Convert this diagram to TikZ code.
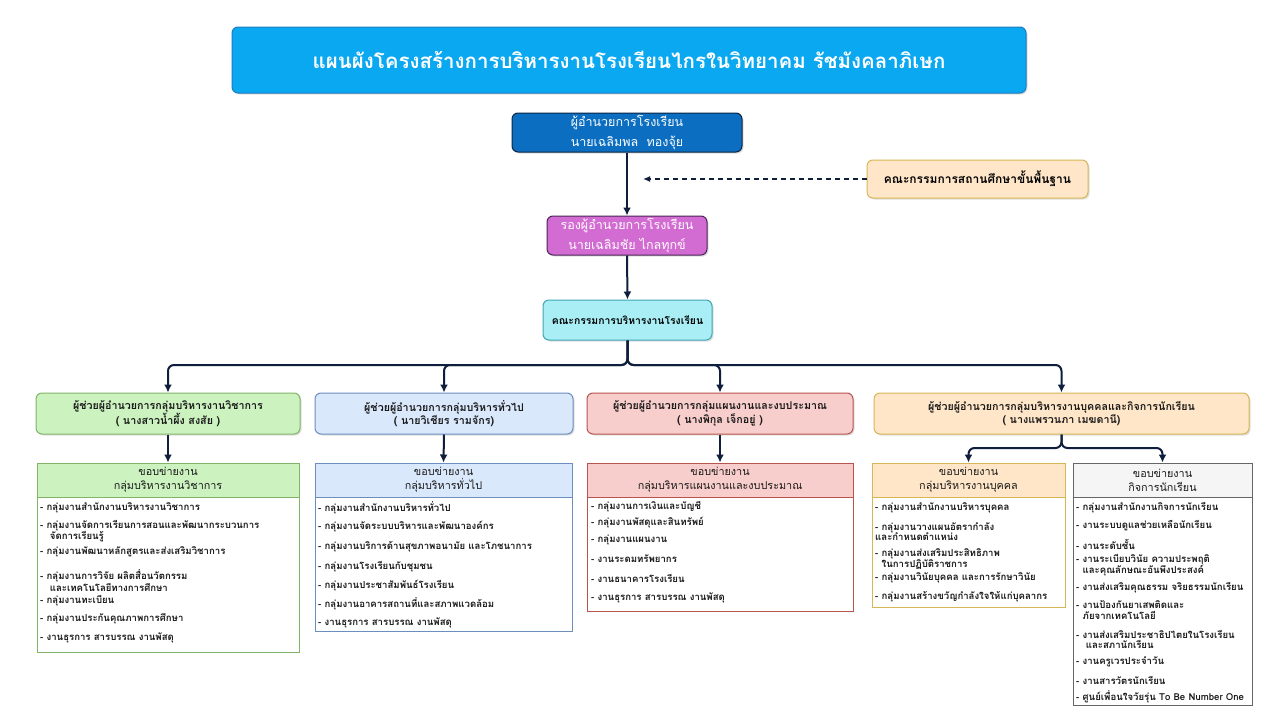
\documentclass[tikz,border=0pt]{standalone}
\usepackage{fontspec}
\setmainfont[Script=Thai]{Loma}
\usetikzlibrary{arrows.meta,shadows}
\definecolor{linec}{HTML}{0F1E3D}
\definecolor{titlef}{HTML}{0AA8F0}
\definecolor{titled}{HTML}{1C7DBE}
\definecolor{dirf}{HTML}{0B6EC0}
\definecolor{dird}{HTML}{0B2545}
\definecolor{depf}{HTML}{D36CD2}
\definecolor{depd}{HTML}{4A2458}
\definecolor{comf}{HTML}{A9EEF5}
\definecolor{comd}{HTML}{3FA6B6}
\definecolor{orgf}{HTML}{FFE6C8}
\definecolor{orgd}{HTML}{D6B656}
\definecolor{grnf}{HTML}{CCF2C0}
\definecolor{grnd}{HTML}{82B366}
\definecolor{bluf}{HTML}{DAE8FC}
\definecolor{blud}{HTML}{6C8EBF}
\definecolor{redf}{HTML}{F8CECC}
\definecolor{redd}{HTML}{B85450}
\definecolor{gryf}{HTML}{F5F5F5}
\definecolor{gryd}{HTML}{666666}
\definecolor{txt}{HTML}{1A1A1A}
\begin{document}
\begin{tikzpicture}[x=1pt,y=-1pt,
  box/.style={rounded corners=6pt, line width=1pt, inner sep=0pt, align=center,
    drop shadow={opacity=0.25, shadow xshift=1.5pt, shadow yshift=-1.5pt}},
  hdr/.style={line width=1pt, inner sep=0pt, align=center, text=txt,
    font=\fontsize{10.8}{14}\selectfont},
  body/.style={line width=1pt, inner sep=0pt, fill=white},
  item/.style={anchor=west, inner sep=0pt, align=left, text=txt,
    font=\bfseries\fontsize{9.6}{10.5}\selectfont},
  asst/.style={box, font=\bfseries\fontsize{10.7}{12.5}\selectfont, text=txt},
  arr/.style={line width=2pt, draw=linec, -{Latex[length=8pt,width=8pt]}},
  branch/.style={arr, rounded corners=6pt}]
\useasboundingbox[fill=white] (0,0) rectangle (1280,720);

% top
\node[box, fill=titlef, draw=titled, minimum width=794pt, minimum height=66pt,
  text=white, font=\bfseries\fontsize{20.5}{24}\selectfont] (title) at (629,60)
  {แผนผังโครงสร้างการบริหารงานโรงเรียนไกรในวิทยาคม รัชมังคลาภิเษก};
\node[box, fill=dirf, draw=dird, minimum width=230pt, minimum height=39pt,
  text=white, font=\fontsize{12.5}{20}\selectfont] (dir) at (627,132.5)
  {ผู้อำนวยการโรงเรียน\\นายเฉลิมพล\ \ ทองจุ้ย};
\node[box, fill=orgf, draw=orgd, minimum width=221pt, minimum height=38pt,
  text=black, font=\bfseries\fontsize{12}{14}\selectfont] (board) at (977.5,179)
  {คณะกรรมการสถานศึกษาขั้นพื้นฐาน};
\node[box, fill=depf, draw=depd, minimum width=160pt, minimum height=39pt,
  text=white, font=\fontsize{12.5}{20}\selectfont] (dep) at (627,235.5)
  {รองผู้อำนวยการโรงเรียน\\นายเฉลิมชัย ไกลทุกข์};
\node[box, fill=comf, draw=comd, minimum width=169pt, minimum height=40pt,
  text=black, font=\bfseries\fontsize{10.4}{13}\selectfont] (com) at (627.5,320)
  {คณะกรรมการบริหารงานโรงเรียน};

% assistants
\node[asst, fill=grnf, draw=grnd, minimum width=264pt, minimum height=41pt] (a1) at (168,413.5)
  {ผู้ช่วยผู้อำนวยการกลุ่มบริหารงานวิชาการ\\( นางสาวน้ำผึ้ง สงสัย )};
\node[asst, fill=bluf, draw=blud, minimum width=258pt, minimum height=41pt] (a2) at (444,413.5)
  {ผู้ช่วยผู้อำนวยการกลุ่มบริหารทั่วไป\\( นายวิเชียร รามจักร)};
\node[asst, fill=redf, draw=redd, minimum width=266pt, minimum height=41pt] (a3) at (720,413.5)
  {ผู้ช่วยผู้อำนวยการกลุ่มแผนงานและงบประมาณ\\( นางพิกุล เจ็กอยู่ )};
\node[asst, fill=orgf, draw=orgd, minimum width=375pt, minimum height=41pt] (a4) at (1061.5,413.5)
  {ผู้ช่วยผู้อำนวยการกลุ่มบริหารงานบุคคลและกิจการนักเรียน\\( นางแพรวนภา เมฆดานี)};

% list bodies
\node[body, draw=grnd, minimum width=262pt, minimum height=155pt, anchor=north] (b1) at (168,497) {};
\node[body, draw=blud, minimum width=257pt, minimum height=134pt, anchor=north] (b2) at (443.5,497) {};
\node[body, draw=redd, minimum width=266pt, minimum height=114pt, anchor=north] (b3) at (720,497) {};
\node[body, draw=orgd, minimum width=193pt, minimum height=110pt, anchor=north] (b4) at (968.5,497) {};
\node[body, draw=gryd, minimum width=179pt, minimum height=208pt, anchor=north] (b5) at (1162.5,497) {};

% list headers
\node[hdr, fill=grnf, draw=grnd, minimum width=262pt, minimum height=34pt] (h1) at (168,480)
  {ขอบข่ายงาน\\กลุ่มบริหารงานวิชาการ};
\node[hdr, fill=bluf, draw=blud, minimum width=257pt, minimum height=34pt] (h2) at (443.5,480)
  {ขอบข่ายงาน\\กลุ่มบริหารทั่วไป};
\node[hdr, fill=redf, draw=redd, minimum width=266pt, minimum height=34pt] (h3) at (720,480)
  {ขอบข่ายงาน\\กลุ่มบริหารแผนงานและงบประมาณ};
\node[hdr, fill=orgf, draw=orgd, minimum width=193pt, minimum height=34pt] (h4) at (968.5,480)
  {ขอบข่ายงาน\\กลุ่มบริหารงานบุคคล};
\node[hdr, fill=gryf, draw=gryd, minimum width=179pt, minimum height=34pt] (h5) at (1162.5,480)
  {ขอบข่ายงาน\\กิจการนักเรียน};

% items
\foreach \y/\txt [count=\i] in {
  508/{- กลุ่มงานสำนักงานบริหารงานวิชาการ},
  531/{- กลุ่มงานจัดการเรียนการสอนและพัฒนากระบวนการ\\\ \ \ จัดการเรียนรู้},
  552/{- กลุ่มงานพัฒนาหลักสูตรและส่งเสริมวิชาการ},
  580.5/{- กลุ่มงานการวิจัย ผลิตสื่อนวัตกรรม\\\ \ \ และเทคโนโลยีทางการศึกษา},
  601/{- กลุ่มงานทะเบียน},
  619/{- กลุ่มงานประกันคุณภาพการศึกษา},
  638/{- งานธุรการ สารบรรณ งานพัสดุ}}
  {\node[item] (l1-\i) at (40,\y) {\txt};}
\foreach \y/\txt [count=\i] in {
  508/{- กลุ่มงานสำนักงานบริหารทั่วไป},
  527/{- กลุ่มงานจัดระบบบริหารและพัฒนาองค์กร},
  547/{- กลุ่มงานบริการด้านสุขภาพอนามัย และโภชนาการ},
  567/{- กลุ่มงานโรงเรียนกับชุมชน},
  586/{- กลุ่มงานประชาสัมพันธ์โรงเรียน},
  604/{- กลุ่มงานอาคารสถานที่และสภาพแวดล้อม},
  623/{- งานธุรการ สารบรรณ งานพัสดุ}}
  {\node[item] (l2-\i) at (318,\y) {\txt};}
\foreach \y/\txt [count=\i] in {
  507/{- กลุ่มงานการเงินและบัญชี},
  523/{- กลุ่มงานพัสดุและสินทรัพย์},
  540/{- กลุ่มงานแผนงาน},
  559/{- งานระดมทรัพยากร},
  578/{- งานธนาคารโรงเรียน},
  598/{- งานธุรการ สารบรรณ งานพัสดุ}}
  {\node[item] (l3-\i) at (591,\y) {\txt};}
\foreach \y/\txt [count=\i] in {
  508/{- กลุ่มงานสำนักงานบริหารบุคคล},
  531.5/{- กลุ่มงานวางแผนอัตรากำลัง\\และกำหนดตำแหน่ง},
  559/{- กลุ่มงานส่งเสริมประสิทธิภาพ\\\ \ ในการปฏิบัติราชการ},
  578/{- กลุ่มงานวินัยบุคคล และการรักษาวินัย},
  597/{- กลุ่มงานสร้างขวัญกำลังใจให้แก่บุคลากร}}
  {\node[item] (l4-\i) at (875,\y) {\txt};}
\foreach \y/\txt [count=\i] in {
  508/{- กลุ่มงานสำนักงานกิจการนักเรียน},
  526/{- งานระบบดูแลช่วยเหลือนักเรียน},
  544/{- งานระดับชั้น},
  565/{- งานระเบียบวินัย ความประพฤติ\\\ \ และคุณลักษณะอันพึงประสงค์},
  588/{- งานส่งเสริมคุณธรรม จริยธรรมนักเรียน},
  610/{- งานป้องกันยาเสพติดและ\\\ \ ภัยจากเทคโนโลยี},
  639.5/{- งานส่งเสริมประชาธิปไตยในโรงเรียน\\\ \ \ และสภานักเรียน},
  662/{- งานครูเวรประจำวัน},
  680/{- งานสารวัตรนักเรียน},
  697/{- ศูนย์เพื่อนใจวัยรุ่น To Be Number One}}
  {\node[item] (l5-\i) at (1076,\y) {\txt};}

% connectors
\coordinate (dashend) at (643,179);
\coordinate (bus) at (627.5,365);
\coordinate (fork) at (1061.5,448);
\draw[arr] (dir.south) -- (dep.north);
\draw[arr] (dep.south) -- (com.north);
\draw[line width=1.4pt, draw=linec, dash pattern=on 5pt off 4pt, -{Latex[length=7pt,width=6pt]}] (board.west) -- (dashend);
\foreach \a in {a1,a2,a3,a4}
  \draw[branch] (com.south) -- (bus) -| (\a.north);
\draw[arr] (a1.south) -- (h1.north);
\draw[arr] (a2.south) -- (h2.north);
\draw[arr] (a3.south) -- (h3.north);
\draw[branch] (a4.south) -- (fork) -| (h4.north);
\draw[branch] (a4.south) -- (fork) -| (h5.north);
\end{tikzpicture}
\end{document}
